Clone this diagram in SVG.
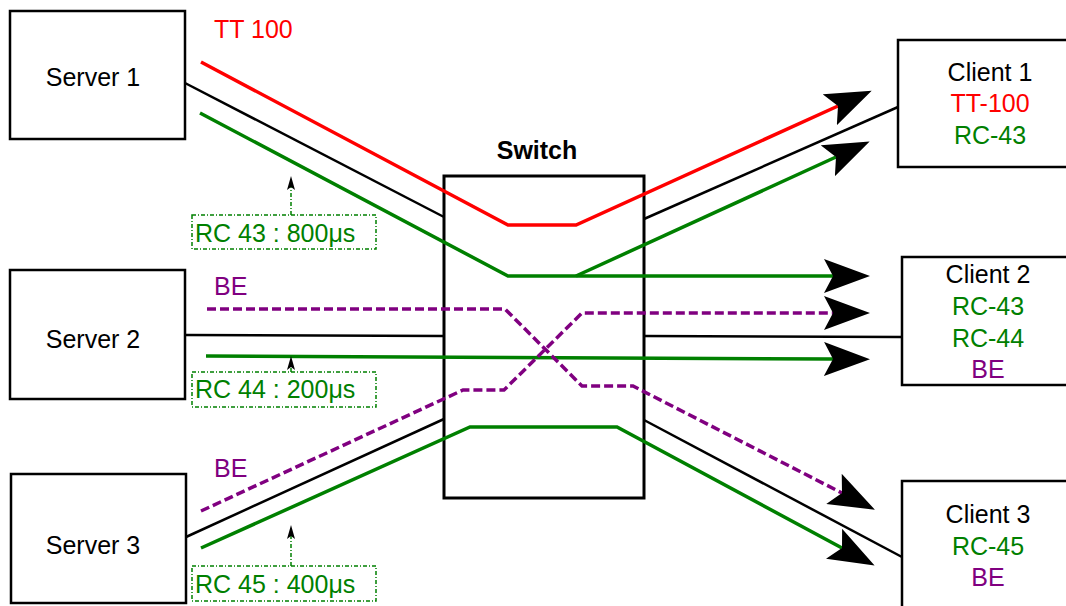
<svg xmlns="http://www.w3.org/2000/svg" width="1066" height="606" viewBox="0 0 1066 606">
<style>
text{font-family:"Liberation Sans",Arial,sans-serif;font-size:25px}
.box{fill:#fff;stroke:#000;stroke-width:2.5}
.sw{fill:#fff;stroke:#000;stroke-width:3}
.c{text-anchor:middle}
.k{fill:#000}.r{fill:#FF0000}.g{fill:#008000}.p{fill:#800080}
.lk{fill:none;stroke:#000;stroke-width:2.5}
.lr{fill:none;stroke:#FF0000;stroke-width:3.5}
.lg{fill:none;stroke:#008000;stroke-width:3.5}
.lp{fill:none;stroke:#800080;stroke-width:3.5;stroke-dasharray:9 4}
.lbl{fill:#fff;stroke:#008000;stroke-width:1.5;stroke-dasharray:4 2 1 2}
.la{fill:none;stroke:#008000;stroke-width:1.5;stroke-dasharray:4 2 1 2}
</style>
<defs>
<marker id="big" markerUnits="userSpaceOnUse" viewBox="0 0 46 34" markerWidth="46" markerHeight="34" refX="9" refY="17" orient="auto">
<path d="M46,17 L0,0 L9,17 L0,34 Z" fill="#000"/>
</marker>
<marker id="small" markerUnits="userSpaceOnUse" viewBox="0 0 14 8" markerWidth="14" markerHeight="8" refX="3" refY="4" orient="auto">
<path d="M14,4 L0,0 L3,4 L0,8 Z" fill="#000"/>
</marker>
</defs>

<g id="switch">
<rect class="sw" x="444" y="176" width="200" height="322"/>
<text x="537" y="159" class="c k" font-weight="bold">Switch</text>
</g>

<g id="connectors">
<path class="lk" d="M185,83 L444,217"/>
<path class="lk" d="M644,219 L898,107"/>
<path class="lk" d="M185,335 L444,336"/>
<path class="lk" d="M644,336 L902,337"/>
<path class="lk" d="M186,537 L444,419"/>
<path class="lk" d="M644,420 L902,557"/>
<path class="lr" d="M201,62 L508,225 L576,225 L838,106" marker-end="url(#big)"/>
<path class="lg" d="M200,113 L508,276 L833,276" marker-end="url(#big)"/>
<path class="lg" d="M576,276 L836,157" marker-end="url(#big)"/>
<path class="lg" d="M206,356 L833,359" marker-end="url(#big)"/>
<path class="lp" d="M207,309 L505,309 L582,386 L633,386 L842,493" marker-end="url(#big)"/>
<path class="lp" d="M201,511 L463,390 L504,390 L582,313 L833,313" marker-end="url(#big)"/>
<path class="lg" d="M201,548 L470,427 L617,427 L842,548" marker-end="url(#big)"/>
<path class="la" d="M291,215 L291,187" marker-end="url(#small)"/>
<path class="la" d="M291,372 L291,367" marker-end="url(#small)"/>
<path class="la" d="M291,566 L291,536" marker-end="url(#small)"/>
</g>

<g id="server1">
<rect class="box" x="10" y="11" width="175" height="128"/>
<text x="93" y="86" class="c k">Server 1</text>
</g>
<g id="server2">
<rect class="box" x="10" y="270" width="175" height="129"/>
<text x="93" y="348" class="c k">Server 2</text>
</g>
<g id="server3">
<rect class="box" x="11" y="474" width="175" height="129"/>
<text x="93" y="554" class="c k">Server 3</text>
</g>

<g id="client1">
<rect class="box" x="898" y="40" width="200" height="127"/>
<text x="990" y="81" class="c k">Client 1</text>
<text x="990" y="112" class="c r">TT-100</text>
<text x="990" y="144" class="c g">RC-43</text>
</g>
<g id="client2">
<rect class="box" x="902" y="257" width="200" height="128"/>
<text x="988" y="283" class="c k">Client 2</text>
<text x="988" y="315" class="c g">RC-43</text>
<text x="988" y="347" class="c g">RC-44</text>
<text x="988" y="378" class="c p">BE</text>
</g>
<g id="client3">
<rect class="box" x="902" y="481" width="200" height="200"/>
<text x="988" y="523" class="c k">Client 3</text>
<text x="988" y="555" class="c g">RC-45</text>
<text x="988" y="586" class="c p">BE</text>
</g>

<g id="label-tt100"><text x="214" y="38" class="r">TT 100</text></g>
<g id="label-be1"><text x="214" y="295" class="p">BE</text></g>
<g id="label-be2"><text x="214" y="477" class="p">BE</text></g>
<g id="label-rc43">
<rect class="lbl" x="192" y="215" width="184" height="34"/>
<text x="195" y="242" class="g">RC 43 : 800μs</text>
</g>
<g id="label-rc44">
<rect class="lbl" x="192" y="372" width="184" height="35"/>
<text x="195" y="398" class="g">RC 44 : 200μs</text>
</g>
<g id="label-rc45">
<rect class="lbl" x="192" y="566" width="184" height="35"/>
<text x="195" y="593" class="g">RC 45 : 400μs</text>
</g>
</svg>
